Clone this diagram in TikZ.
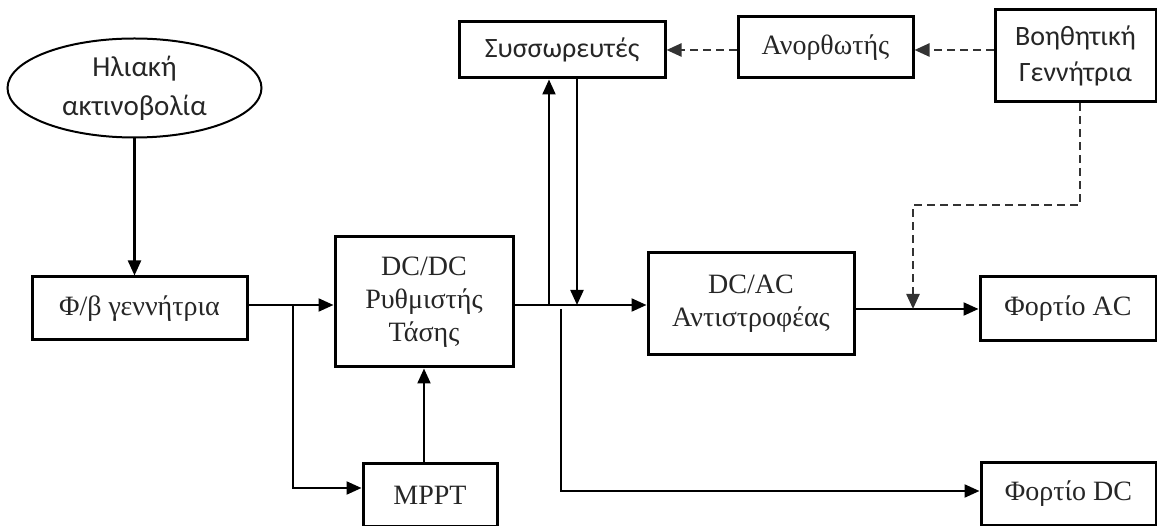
\documentclass[tikz,border=0pt]{standalone}
\usepackage{fontspec}
\setmainfont{Liberation Serif}
\newfontfamily\calib{Carlito}
\usetikzlibrary{arrows.meta,shapes.geometric}
\tikzset{
  box/.style={draw=black, line width=3pt, rectangle, inner sep=0pt, align=center, text=black!85, font=\fontsize{28}{33}\selectfont},
  sbox/.style={box, font=\calib\fontsize{28}{36}\selectfont},
  arr/.style={draw=black, line width=2.2pt, -{Triangle[length=15pt,width=13pt]}},
  darr/.style={draw=black!80, line width=2.4pt, dash pattern=on 8pt off 5pt, -{Triangle[length=15pt,width=13pt]}},
}
\begin{document}
\begin{tikzpicture}[x=1pt,y=-1pt]
\useasboundingbox (0,0) rectangle (1157,526);
% nodes
\node[draw=black, line width=2pt, ellipse, minimum width=254pt, minimum height=99pt, inner sep=0pt, align=center, text=black!85, font=\calib\fontsize{29}{39}\selectfont] (ell) at (134.5,88) {Ηλιακή\\ακτινοβολία};
\node[box, minimum width=215pt, minimum height=63pt] (pv) at (139.5,308.5) {Φ/β γεννήτρια};
\node[box, minimum width=178pt, minimum height=130pt] (dcdc) at (424,302) {DC/DC\\Ρυθμιστής\\Τάσης};
\node[box, minimum width=134pt, minimum height=62pt] (mppt) at (430,495) {MPPT};
\node[sbox, minimum width=206pt, minimum height=56pt] (bat) at (562,50) {Συσσωρευτές};
\node[box, minimum width=175pt, minimum height=61pt] (rect) at (825.5,47.5) {Ανορθωτής};
\node[sbox, minimum width=161pt, minimum height=92pt] (gen) at (1075.5,56) {Βοηθητική\\Γεννήτρια};
\node[box, minimum width=206pt, minimum height=102pt] (dcac) at (751,304) {DC/AC\\Αντιστροφέας};
\node[box, minimum width=176pt, minimum height=64pt] (ac) at (1068,309) {Φορτίο AC};
\node[box, minimum width=175pt, minimum height=62pt] (dc) at (1068.5,494) {Φορτίο DC};
% junction coordinates
\coordinate (j1) at (293,305);
\coordinate (m1) at (293,488);
\coordinate (j2) at (549,305);
\coordinate (j3) at (577,305);
\coordinate (j4) at (561,309);
\coordinate (d4) at (561,491);
\coordinate (j5) at (913,309);
\coordinate (d1) at (913,205);
\coordinate (g1) at (1080,205);
% connectors
\draw[arr] (ell.south) -- (ell.south |- pv.north);
\draw[arr] (pv.east |- j1) -- (dcdc.west |- j1);
\draw[arr] (j1) -- (m1) -- (m1 -| mppt.west);
\draw[arr] (dcdc.south |- mppt.north) -- (dcdc.south);
\draw[arr] (dcdc.east |- j1) -- (dcac.west |- j1);
\draw[arr] (j2) -- (j2 |- bat.south);
\draw[arr] (j3 |- bat.south) -- (j3);
\draw[arr] (j4) -- (d4) -- (d4 -| dc.west);
\draw[arr] (dcac.east |- j5) -- (ac.west |- j5);
\draw[darr] (g1 |- gen.south) -- (g1) -- (d1) -- (j5);
\draw[darr] (gen.west |- bat.east) -- (rect.east |- bat.east);
\draw[darr] (rect.west |- bat.east) -- (bat.east);
\end{tikzpicture}
\end{document}
